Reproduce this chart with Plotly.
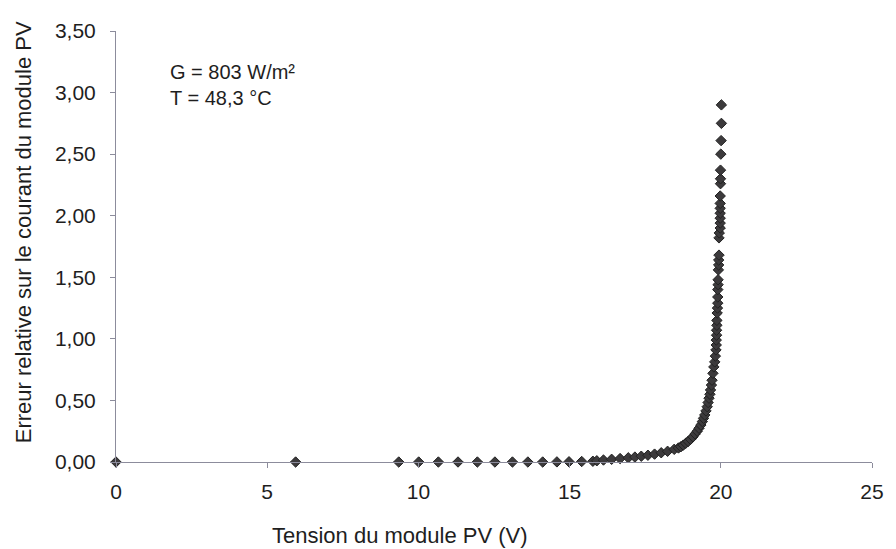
import plotly.graph_objects as go

# Tension du module PV (V)
tension = [
    0.00, 5.94, 9.35, 10.01, 10.66, 11.31, 11.95, 12.53, 13.11, 13.62,
    14.11, 14.58, 14.98, 15.40, 15.77, 15.90, 16.12, 16.39, 16.67, 16.94,
    17.16, 17.37, 17.59, 17.81, 18.03, 18.24, 18.46, 18.60, 18.68, 18.76,
    18.84, 18.92, 19.00, 19.08, 19.15, 19.22, 19.28, 19.34, 19.39, 19.43,
    19.47, 19.51, 19.55, 19.58, 19.61, 19.64, 19.66, 19.69, 19.71, 19.74,
    19.77, 19.80, 19.82, 19.84, 19.85, 19.85, 19.86, 19.86, 19.87, 19.87,
    19.88, 19.89, 19.90, 19.90, 19.90, 19.91, 19.91, 19.92, 19.93, 19.93,
    19.94, 19.94, 19.95, 19.98, 19.98, 19.98, 19.98, 19.98, 19.98, 19.98,
    19.99, 19.99, 19.99, 20.00, 20.01, 20.02, 20.02,
]
# Erreur relative sur le courant du module PV
erreur = [
    0.000, 0.000, 0.000, 0.000, 0.000, 0.000, 0.000, 0.000, 0.000, 0.000,
    0.000, 0.001, 0.002, 0.004, 0.006, 0.010, 0.016, 0.022, 0.028, 0.034,
    0.040, 0.047, 0.055, 0.064, 0.075, 0.087, 0.103, 0.114, 0.124, 0.137,
    0.152, 0.167, 0.184, 0.205, 0.228, 0.250, 0.274, 0.300, 0.328, 0.355,
    0.382, 0.415, 0.449, 0.483, 0.518, 0.550, 0.585, 0.625, 0.664, 0.720,
    0.772, 0.813, 0.860, 0.910, 0.950, 0.990, 1.030, 1.070, 1.110, 1.150,
    1.210, 1.250, 1.290, 1.340, 1.400, 1.440, 1.480, 1.560, 1.600, 1.640,
    1.680, 1.820, 1.860, 1.900, 1.940, 1.980, 2.020, 2.060, 2.100, 2.160,
    2.260, 2.300, 2.370, 2.500, 2.610, 2.750, 2.900,
]

x_ticks = [0, 5, 10, 15, 20, 25]
y_ticks = [0.0, 0.5, 1.0, 1.5, 2.0, 2.5, 3.0, 3.5]

FONT = "Liberation Sans, Arial, sans-serif"
AXIS_COLOR = "#8c8c9c"
TEXT = "#1e1e1e"

fig = go.Figure()
fig.add_trace(go.Scatter(
    x=tension, y=erreur, mode="markers",
    marker=dict(symbol="diamond", size=8, color="#3c3a3c",
                line=dict(color="#222222", width=1)),
    cliponaxis=False, showlegend=False,
))

fig.update_layout(
    width=896, height=549,
    margin=dict(l=116, r=14, t=31, b=87),
    paper_bgcolor="white", plot_bgcolor="white",
    separators=", ",
    font=dict(family=FONT, size=21, color=TEXT),
    xaxis=dict(
        range=[0, 25], tickvals=x_ticks, showgrid=False, zeroline=False,
        showline=True, linecolor=AXIS_COLOR, linewidth=1,
        ticks="outside", ticklen=5, tickcolor=AXIS_COLOR,
        tickfont=dict(size=21, color=TEXT), ticklabelstandoff=6,
    ),
    yaxis=dict(
        range=[0, 3.5], tickvals=y_ticks, tickformat=".2f", showgrid=False,
        zeroline=False, showline=True, linecolor=AXIS_COLOR, linewidth=1,
        ticks="outside", ticklen=5, tickcolor=AXIS_COLOR,
        tickfont=dict(size=21, color=TEXT), ticklabelstandoff=10,
    ),
    annotations=[
        dict(text="G = 803 W/m²<br>T = 48,3 °C", xref="paper", yref="paper",
             x=(169 - 116) / 766, y=(462 - 59) / 431, xanchor="left", yanchor="top",
             align="left", showarrow=False, font=dict(size=20, color=TEXT)),
        dict(text="Tension du module PV (V)", xref="paper", yref="paper",
             x=(404 - 116) / 766, y=-(535 - 462) / 431, xanchor="center", yanchor="middle",
             showarrow=False, font=dict(size=22, color=TEXT)),
        dict(text="Erreur relative sur le courant du module PV", xref="paper", yref="paper",
             x=-(116 - 22) / 766, y=(462 - 232) / 431, xanchor="center", yanchor="middle",
             textangle=-90, showarrow=False, font=dict(size=22, color=TEXT)),
    ],
)

fig.write_html("out.html")
